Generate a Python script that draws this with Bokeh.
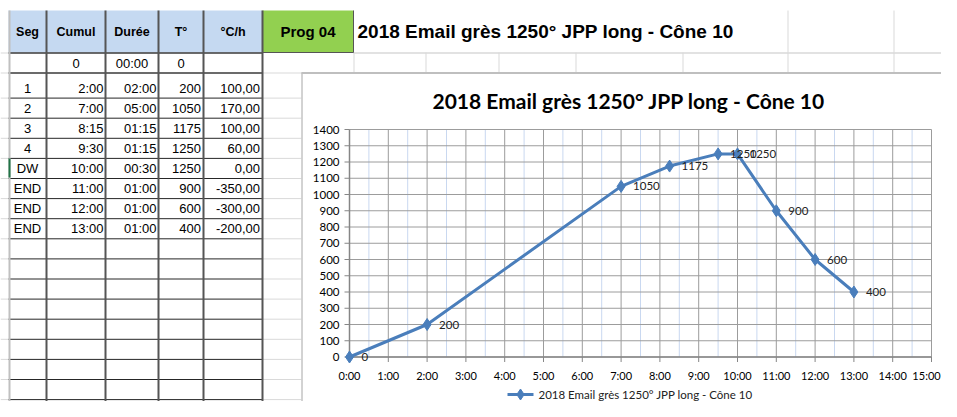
import math
from bokeh.plotting import figure
from bokeh.models import Range1d
from bokeh.core.properties import value
from bokeh.embed import file_html
from bokeh.resources import INLINE

# ---------------- data ----------------
headers = ["Seg", "Cumul", "Durée", "T°", "°C/h"]
seg = ["", "1", "2", "3", "4", "DW", "END", "END", "END"]
cumul = ["0", "2:00", "7:00", "8:15", "9:30", "10:00", "11:00", "12:00", "13:00"]
duree = ["00:00", "02:00", "05:00", "01:15", "01:15", "00:30", "01:00", "01:00", "01:00"]
temp_txt = ["0", "200", "1050", "1175", "1250", "1250", "900", "600", "400"]
rate = ["", "100,00", "170,00", "100,00", "60,00", "0,00", "-350,00", "-300,00", "-200,00"]
prog_label = "Prog 04"
chart_title = "2018 Email grès 1250° JPP  long - Cône 10"
series_name = "2018 Email grès 1250° JPP  long - Cône 10"

hours = [0, 2, 7, 8.25, 9.5, 10, 11, 12, 13]
temps = [0, 200, 1050, 1175, 1250, 1250, 900, 600, 400]
point_labels = ["0", "200", "1050", "1175", "1250", "1250", "900", "600", "400"]

x_ticks = [0, 1, 2, 3, 4, 5, 6, 7, 8, 9, 10, 11, 12, 13, 14, 15]
x_tick_labels = ["0:00", "1:00", "2:00", "3:00", "4:00", "5:00", "6:00", "7:00",
                 "8:00", "9:00", "10:00", "11:00", "12:00", "13:00", "14:00", "15:00"]
x_minor = [0.5, 1.5, 2.5, 3.5, 4.5, 5.5, 6.5, 7.5, 8.5, 9.5, 10.5, 11.5, 12.5, 13.5, 14.5]
y_ticks = [0, 100, 200, 300, 400, 500, 600, 700, 800, 900, 1000, 1100, 1200, 1300, 1400]
y_tick_labels = ["0", "100", "200", "300", "400", "500", "600", "700", "800", "900",
                 "1000", "1100", "1200", "1300", "1400"]

# ---------------- layout (page pixel coordinates) ----------------
W, H = 941, 401
X0, X1 = 0, W
Y0, Y1 = 0, H

# chart plot area placement
PX0, PX_PER_H = 349.0, 38.8
PY0, PY_PER_T = 356.5, 0.1625

col_x = [8, 46, 105, 158, 203, 262]
head_top, head_bot, row0_bot = 10, 52, 72
row_lines = [row0_bot] + [97.1 + 20.1 * k for k in range(17)]
row_bottoms = [row0_bot] + [97.1 + 20.1 * k for k in range(8)]

SHEET = value("Liberation Sans")
CAL = value("Lato")

p = figure(width=W, height=H, x_range=Range1d(X0, X1), y_range=Range1d(Y1, Y0),
           x_axis_type=None, y_axis_type=None, toolbar_location=None,
           output_backend="svg", min_border=0, outline_line_color=None)
p.title.visible = False
p.background_fill_color = "white"
p.border_fill_color = "white"
p.extra_x_ranges = {"t": Range1d((X0 - PX0) / PX_PER_H, (X1 - PX0) / PX_PER_H)}
p.extra_y_ranges = {"T": Range1d((PY0 - Y1) / PY_PER_T, (PY0 - Y0) / PY_PER_T)}

# ---------------- spreadsheet background ----------------
p.quad(left=[col_x[0]], right=[col_x[-1]], top=[head_top], bottom=[head_bot],
       fill_color="#c5d9f1", line_color=None)
p.quad(left=[262], right=[353], top=[head_top], bottom=[head_bot],
       fill_color="#92d050", line_color=None)

light = "#d9d9d9"
all_rows = [head_bot] + row_lines
p.segment(x0=[0] * len(all_rows), x1=[8] * len(all_rows),
          y0=[y + 0.5 for y in all_rows], y1=[y + 0.5 for y in all_rows],
          line_color=light, line_width=1)
p.segment(x0=[262] * len(row_lines), x1=[301] * len(row_lines),
          y0=[y + 0.5 for y in row_lines], y1=[y + 0.5 for y in row_lines],
          line_color=light, line_width=1)
p.segment(x0=[353], x1=[960], y0=[52.5], y1=[52.5], line_color=light, line_width=1.5)
sheet_cols_r0 = [353, 425, 498, 575, 682, 787, 893]
p.segment(x0=[c + 0.5 for c in sheet_cols_r0], x1=[c + 0.5 for c in sheet_cols_r0],
          y0=[52] * 7, y1=[72] * 7, line_color=light, line_width=1)
p.segment(x0=[787.5, 893.5], x1=[787.5, 893.5], y0=[10, 10], y1=[52, 52],
          line_color=light, line_width=1)

# chart box
p.quad(left=[301], right=[960], top=[72], bottom=[420], fill_color="white", line_color=None)
p.segment(x0=[301.5], x1=[301.5], y0=[72], y1=[420], line_color="#a6a6a6", line_width=1)
p.segment(x0=[301], x1=[960], y0=[72.5], y1=[72.5], line_color="#bfbfbf", line_width=2)

# table lines
p.segment(x0=[col_x[0]] * 2, x1=[col_x[-1]] * 2, y0=[head_bot + 0.5, row0_bot + 0.5],
          y1=[head_bot + 0.5, row0_bot + 0.5], line_color="#3a3a3a", line_width=1.5)
p.segment(x0=[col_x[0]] * 16, x1=[col_x[-1]] * 16,
          y0=[y + 0.5 for y in row_lines[1:]], y1=[y + 0.5 for y in row_lines[1:]],
          line_color="#262626", line_width=1)
p.segment(x0=[c for c in col_x[1:]], x1=[c for c in col_x[1:]],
          y0=[head_top] * 5, y1=[420] * 5, line_color="#555555", line_width=2)
p.segment(x0=[9], x1=[9], y0=[head_top], y1=[420], line_color="#c0c0c0", line_width=2)
p.segment(x0=[9], x1=[9], y0=[158], y1=[177], line_color="#217346", line_width=2)
p.segment(x0=[262, 353], x1=[353, 353], y0=[52, 10], y1=[52, 52], line_color="#555555", line_width=1)

# header texts
hx = [(col_x[i] + col_x[i + 1]) / 2 for i in range(5)]
p.text(x=hx, y=[31] * 5, text=headers, text_font=SHEET, text_font_size="12.5px",
       text_font_style="bold", text_align="center", text_baseline="middle", text_color="black")
p.text(x=[307.5], y=[31], text=[prog_label], text_font=SHEET, text_font_size="15px",
       text_font_style="bold", text_align="center", text_baseline="middle", text_color="black")
p.text(x=[357], y=[31], text=[chart_title], text_font=SHEET, text_font_size="19px",
       text_font_style="bold", text_align="left", text_baseline="middle", text_color="black")

# table cell texts
ty = [b - 9.5 for b in row_bottoms]
p.text(x=[27] * 8, y=ty[1:], text=seg[1:], text_font=SHEET, text_font_size="13px",
       text_align="center", text_baseline="middle", text_color="black")
p.text(x=[hx[1], hx[2], hx[3]], y=[ty[0]] * 3, text=[cumul[0], duree[0], temp_txt[0]],
       text_font=SHEET, text_font_size="13px", text_align="center", text_baseline="middle",
       text_color="black")
for col_right, vals in ((103, cumul), (156, duree), (200.5, temp_txt), (259.5, rate)):
    p.text(x=[col_right] * 8, y=ty[1:], text=vals[1:], text_font=SHEET, text_font_size="13px",
           text_align="right", text_baseline="middle", text_color="black")

# ---------------- chart ----------------
p.text(x=[631], y=[100], text=[chart_title], text_font=CAL, text_font_size="21px",
       text_font_style="bold", text_align="center", text_baseline="middle", text_color="black")

R = dict(x_range_name="t", y_range_name="T")
grid_c = "#9c9c9c"
p.segment(x0=x_minor, x1=x_minor, y0=[y_ticks[0]] * len(x_minor), y1=[y_ticks[-1]] * len(x_minor),
          line_color="#c9d8f0", line_width=1, **R)
p.segment(x0=[x_ticks[0]] * len(y_ticks), x1=[x_ticks[-1]] * len(y_ticks), y0=y_ticks, y1=y_ticks,
          line_color=grid_c, line_width=1, **R)
p.segment(x0=x_ticks, x1=x_ticks, y0=[y_ticks[0]] * len(x_ticks), y1=[y_ticks[-1]] * len(x_ticks),
          line_color=grid_c, line_width=1, **R)
p.segment(x0=[x_ticks[0]], x1=[x_ticks[0]], y0=[y_ticks[0]], y1=[y_ticks[-1]],
          line_color="#868686", line_width=1.5, **R)
p.segment(x0=[x_ticks[0]], x1=[x_ticks[-1]], y0=[y_ticks[0]], y1=[y_ticks[0]],
          line_color="#868686", line_width=1.5, **R)
p.ray(x=[x_ticks[0]] * len(y_ticks), y=y_ticks, length=5, length_units="screen", angle=math.pi,
      line_color="#868686", line_width=1, **R)
p.ray(x=x_ticks, y=[y_ticks[0]] * len(x_ticks), length=5, length_units="screen", angle=-math.pi / 2,
      line_color="#868686", line_width=1, **R)
# tick labels (last one nudged left so it stays inside the canvas)
p.text(x=[x_ticks[0]] * len(y_ticks), y=y_ticks, text=y_tick_labels, x_offset=-10,
       text_font=CAL, text_font_size="11.5px", text_align="right", text_baseline="middle",
       text_color="black", **R)
x_lab_shift = [0] * (len(x_ticks) - 1) + [-5]
p.text(x=x_ticks, y=[y_ticks[0]] * len(x_ticks), text=x_tick_labels, y_offset=18,
       x_offset=x_lab_shift,
       text_font=CAL, text_font_size="11px", text_align="center", text_baseline="middle",
       text_color="black", **R)

# series
blue = "#4a7ebb"
p.line(x=hours, y=temps, line_color=blue, line_width=3, **R)
p.scatter(x=hours, y=temps, marker="diamond", size=12, fill_color=blue, line_color=blue, **R)
p.text(x=hours, y=temps, text=point_labels, x_offset=12, text_font=CAL, text_font_size="11.5px",
       text_align="left", text_baseline="middle", text_color="#222222", **R)

# legend
p.segment(x0=[507], x1=[533], y0=[394], y1=[394], line_color=blue, line_width=3)
p.scatter(x=[520], y=[394], marker="diamond", size=11, fill_color=blue, line_color=blue)
p.text(x=[538], y=[394], text=[series_name], text_font=CAL, text_font_size="11.5px",
       text_align="left", text_baseline="middle", text_color="#222222")

open("out.html", "w").write(file_html(p, INLINE))
